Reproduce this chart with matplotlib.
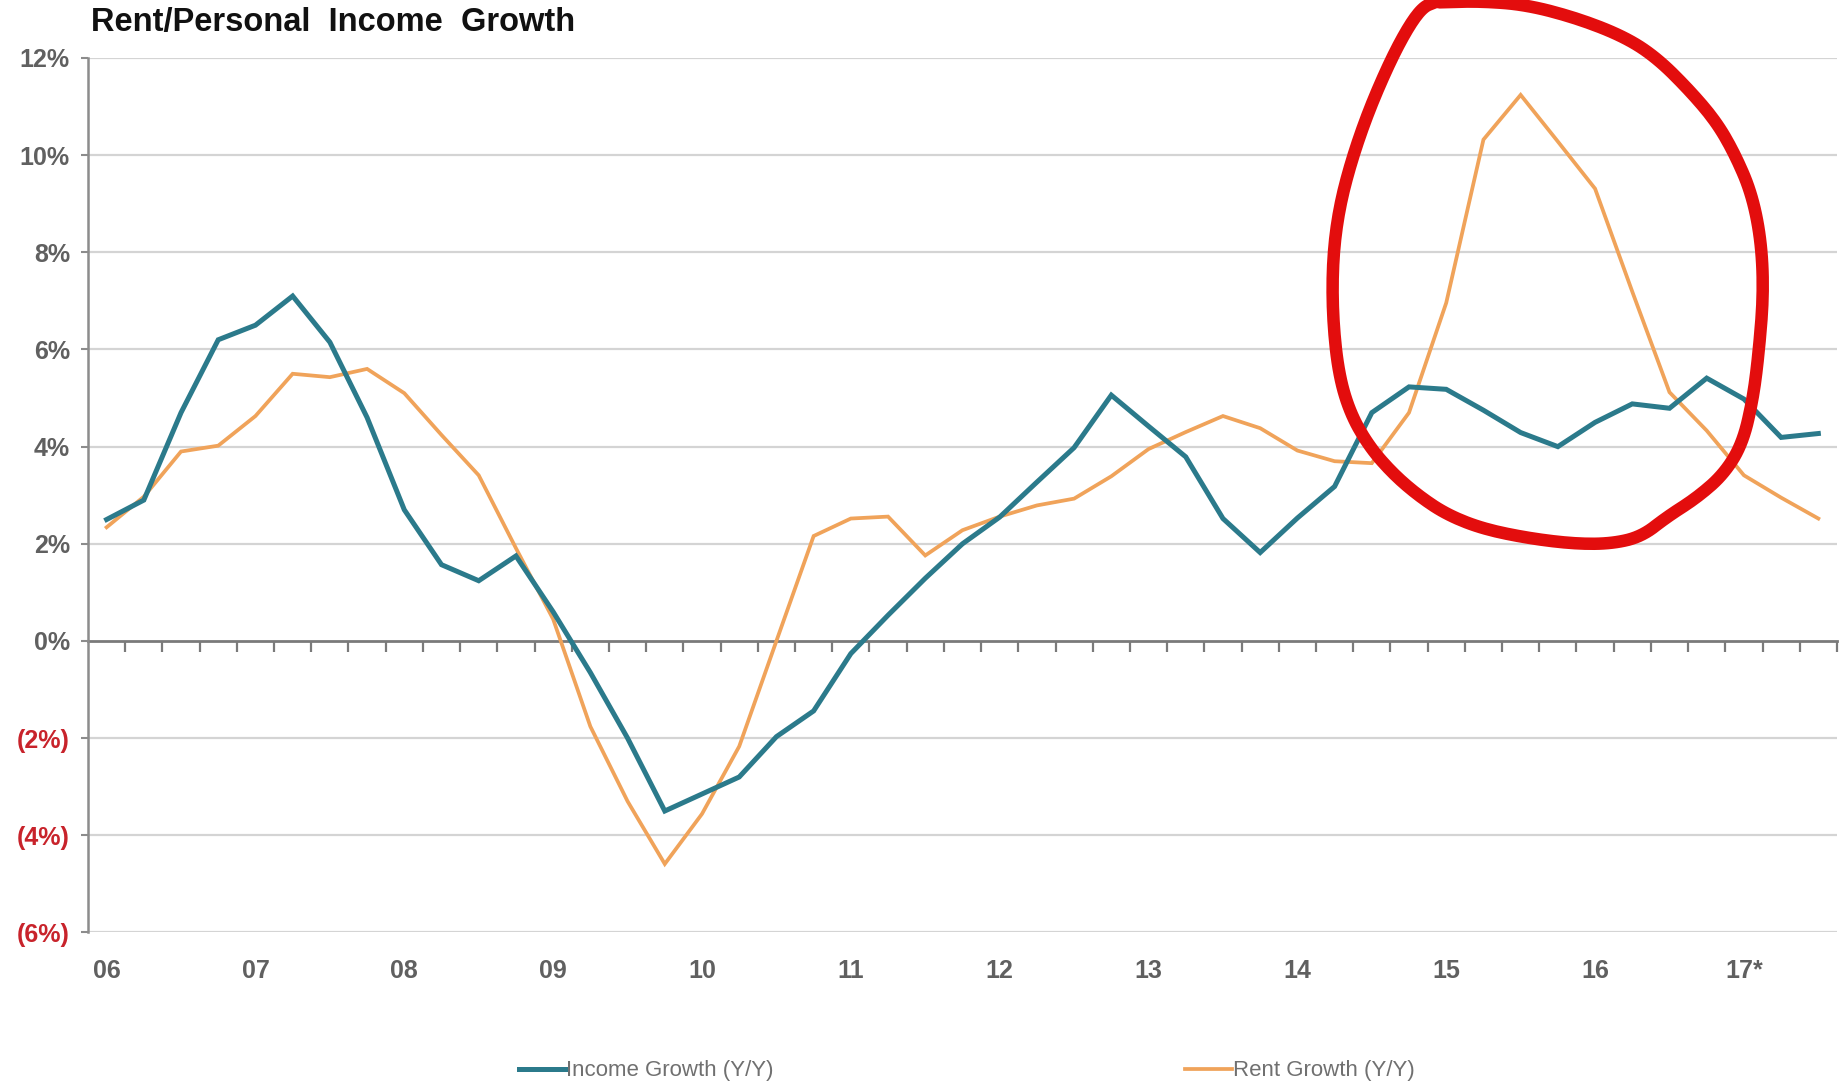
import numpy as np
import matplotlib
matplotlib.use("Agg")
import matplotlib.pyplot as plt
from matplotlib.lines import Line2D

plt.rcParams['font.family'] = ['Liberation Sans', 'DejaVu Sans']

# ---------------- data (quarterly, 2006Q1 .. 2017Q3) ----------------
year_labels = ["06", "07", "08", "09", "10", "11", "12", "13", "14", "15", "16", "17*"]
income_growth = [2.5, 2.9, 4.7, 6.2, 6.5, 7.1, 6.15, 4.6, 2.7, 1.57, 1.24, 1.75,
                 0.6, -0.65, -2.0, -3.5, -3.15, -2.8, -1.97, -1.44, -0.26, 0.53,
                 1.29, 2.0, 2.55, 3.27, 3.98, 5.06, 4.42, 3.79, 2.52, 1.82, 2.53,
                 3.18, 4.7, 5.23, 5.18, 4.75, 4.29, 4.0, 4.5, 4.88, 4.79, 5.41,
                 4.98, 4.19, 4.27]
rent_growth = [2.34, 2.97, 3.9, 4.02, 4.63, 5.5, 5.43, 5.6, 5.1, 4.24, 3.41, 1.91,
               0.45, -1.76, -3.3, -4.59, -3.56, -2.17, 0.0, 2.16, 2.52, 2.56,
               1.76, 2.28, 2.56, 2.79, 2.93, 3.39, 3.95, 4.3, 4.63, 4.38, 3.92,
               3.7, 3.66, 4.7, 6.96, 10.32, 11.24, 10.28, 9.31, 7.19, 5.12, 4.33,
               3.41, 2.95, 2.52]
y_ticks = [-6, -4, -2, 0, 2, 4, 6, 8, 10, 12]

# hand-drawn red loop annotation (pixel coords of the 1568x923 view)
loop_px = [(1226, 2), (1260, 1), (1300, 4), (1345, 16), (1385, 32), (1412, 50),
           (1440, 78), (1462, 104), (1478, 132), (1492, 165), (1500, 205),
           (1502, 250), (1498, 300), (1493, 340), (1484, 378), (1468, 404),
           (1445, 424), (1420, 440), (1398, 457), (1372, 463), (1340, 463),
           (1300, 458), (1262, 450), (1232, 438), (1208, 422), (1186, 403),
           (1166, 380), (1150, 352), (1140, 318), (1135, 270), (1135, 222),
           (1140, 180), (1150, 140), (1165, 96), (1184, 52), (1200, 22),
           (1212, 6), (1222, 2)]


def chaikin(pts, it=3):
    p = np.asarray(pts, dtype=float)
    for _ in range(it):
        q = 0.75 * p[:-1] + 0.25 * p[1:]
        r = 0.25 * p[:-1] + 0.75 * p[1:]
        new = np.empty((2 * len(q), 2))
        new[0::2] = q
        new[1::2] = r
        p = np.vstack([pts[0], new, pts[-1]])
    return p


TEAL = "#2b7a8b"
ORANGE = "#f0a35a"
GRAY = "#606060"
RED = "#c8232b"

fig = plt.figure(figsize=(18.41, 10.84), dpi=100)
ax = fig.add_axes([0.0478, 0.1398, 0.9500, 0.8067])

n = len(income_growth)
x = np.arange(n)
ax.plot(x, income_growth, color=TEAL, lw=3.6, solid_joinstyle='miter', zorder=4,
        label="Income Growth (Y/Y)")
ax.plot(x, rent_growth, color=ORANGE, lw=2.7, solid_joinstyle='miter', zorder=3,
        label="Rent Growth (Y/Y)")

ax.set_xlim(-0.5, n - 0.5)
ax.set_ylim(-6, 12)

# y axis
ax.set_yticks(y_ticks)
ax.set_yticklabels([f"({-v}%)" if v < 0 else f"{v}%" for v in y_ticks])
for lab, v in zip(ax.get_yticklabels(), y_ticks):
    lab.set_color(RED if v < 0 else GRAY)
    lab.set_fontweight('bold')
    lab.set_fontsize(18)
ax.tick_params(axis='y', length=5, width=1.5, color='#8c8c8c', pad=8)

# grid lines
for v in y_ticks:
    if v != 0:
        ax.axhline(v, color='#d4d4d4', lw=1.6, zorder=1)

# x labels at bottom (category centers every 4 quarters)
ax.set_xticks(np.arange(0, n, 4))
ax.set_xticklabels(year_labels, fontsize=18, fontweight='bold', color=GRAY)
ax.tick_params(axis='x', length=0, pad=19)

for s in ['top', 'right', 'bottom']:
    ax.spines[s].set_visible(False)
ax.spines['left'].set_color('#8c8c8c')
ax.spines['left'].set_linewidth(1.8)

# zero axis with quarter boundary ticks
sec = ax.secondary_xaxis(6 / 18)
sec.set_xticks(np.arange(0.5, n, 1.0))
sec.set_xticklabels([])
sec.tick_params(axis='x', direction='out', length=8, width=1.6, color='#7a7a7a')
sec.spines['bottom'].set_color('#7a7a7a')
sec.spines['bottom'].set_linewidth(2.0)

# title
fig.text(0.0495, 0.979, "Rent/Personal  Income  Growth", fontsize=23.5, fontweight='bold',
         color='#111111', ha='left', va='center')

# legend
fig.legend(loc='center', bbox_to_anchor=(0.525, 0.012), ncol=2, frameon=False,
           fontsize=16, handlelength=2.1, handletextpad=0.05, columnspacing=18.5,
           labelcolor='#707070')

# red hand-drawn loop
sm = chaikin(loop_px)
lx = sm[:, 0] / 1568
ly = 1 - sm[:, 1] / 923
fig.add_artist(Line2D(lx, ly, transform=fig.transFigure, color='#e30d0d', lw=9.0,
                      solid_capstyle='round', solid_joinstyle='round', zorder=10))

fig.savefig("out.png", dpi=100)
